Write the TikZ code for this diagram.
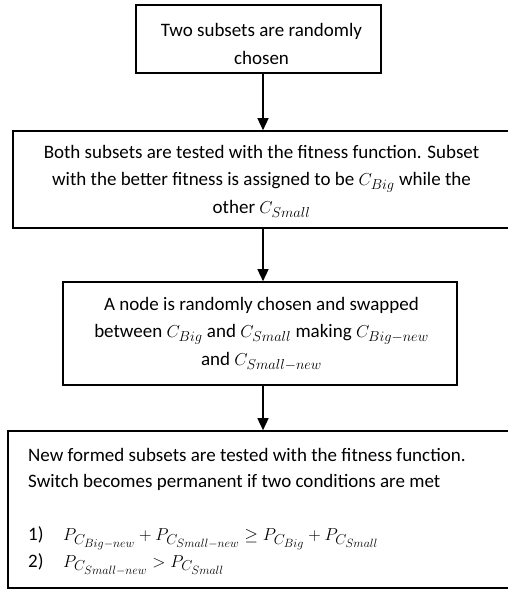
\documentclass[tikz,border=0pt]{standalone}
\usepackage{fontspec}
\setmainfont{Carlito}
\DeclareMathSizes{19}{19}{13.5}{11.5}
\usetikzlibrary{arrows.meta}
\begin{document}
\begin{tikzpicture}[x=1pt,y=-1pt,
  box/.style={draw, line width=1.6pt, inner sep=0pt},
  txt/.style={font=\fontsize{19}{27.5}\selectfont, inner sep=0pt, anchor=base},
  arr/.style={line width=1.4pt, -{Triangle[length=12pt,width=11pt]}}]
\useasboundingbox (0,0) rectangle (507,592);
% boxes of the flow
\node[box, minimum width=245pt, minimum height=68pt] (b1) at (258.5,39) {};
\node[box, minimum width=497pt, minimum height=97pt] (b2) at (261.5,179.5) {};
\node[box, minimum width=394pt, minimum height=103pt] (b3) at (260,333.5) {};
\node[box, minimum width=506pt, minimum height=157pt] (b4) at (261,509.5) {};
% texts (each node sits on the baseline of its last line)
\node[txt, align=center] (t1) at (261.5,64) {Two subsets are randomly\\chosen};
\node[txt, align=center] (t2) at (261.5,213) {Both subsets are tested with the fitness function. Subset\\
  with the better fitness is assigned to be $C_{Big}$ while the\\other $C_{Small}$};
\node[txt, align=center] (t3) at (261.5,365) {A node is randomly chosen and swapped\\
  between $C_{Big}$ and $C_{Small}$ making $C_{Big-new}$\\and $C_{Small-new}$};
\node[txt, align=left, font=\fontsize{19}{26.5}\selectfont] (t4) at (28,567) [anchor=base west]
  {New formed subsets are tested with the fitness function.\\
   Switch becomes permanent if two conditions are met\\
   \mbox{}\\
   \makebox[35pt][l]{1)}$P_{C_{Big-new}}+P_{C_{Small-new}}\ge P_{C_{Big}}+P_{C_{Small}}$\\
   \makebox[35pt][l]{2)}$P_{C_{Small-new}}> P_{C_{Small}}$};
% connectors
\coordinate (ax) at (263,0);
\draw[arr] (b1.south -| ax) -- (b2.north -| ax);
\draw[arr] (b2.south -| ax) -- (b3.north -| ax);
\draw[arr] (b3.south -| ax) -- (b4.north -| ax);
\end{tikzpicture}
\end{document}
